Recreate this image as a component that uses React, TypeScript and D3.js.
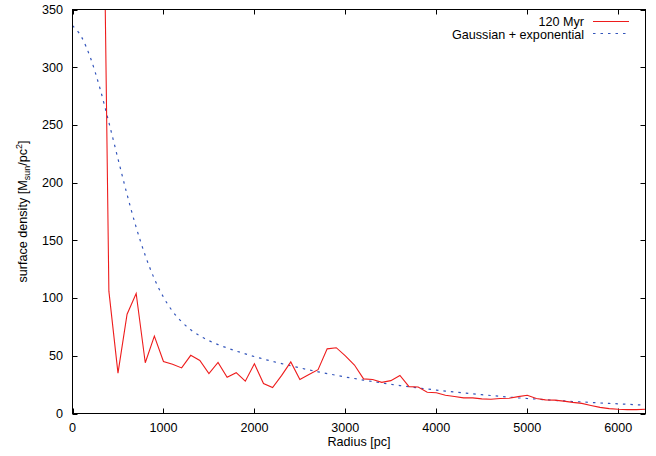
import React from "react";
import * as d3 from "d3";

const radius = [300, 400, 500, 600, 700, 800, 900, 1000, 1100, 1200, 1300, 1400, 1500, 1600, 1700, 1800, 1900, 2000, 2100, 2200, 2300, 2400, 2500, 2600, 2700, 2800, 2900, 3000, 3100, 3200, 3300, 3400, 3500, 3600, 3700, 3800, 3900, 4000, 4100, 4200, 4300, 4400, 4500, 4600, 4700, 4800, 4900, 5000, 5100, 5200, 5300, 5400, 5500, 5600, 5700, 5800, 5900, 6000, 6100, 6200, 6300];
const density120 = [720, 106, 35, 86, 104, 44, 67, 45, 42.6, 39.5, 50.4, 46, 34.6, 44.3, 31.4, 35.4, 28, 43, 26, 22.5, 33, 44.7, 29.4, 33.7, 38, 56, 57, 50, 42, 30, 29.4, 27, 28.5, 33, 23.3, 23, 18.4, 18, 15.8, 14.7, 13.5, 13.5, 12.7, 12.4, 13, 13.2, 14.6, 15.8, 13, 11.8, 11.6, 10.7, 9.6, 8.8, 7, 5.3, 4.2, 3.7, 3.4, 3.4, 3.7];

const fitRadius = [0, 100, 200, 300, 400, 500, 600, 700, 800, 900, 1000, 1100, 1200, 1300, 1400, 1500, 1600, 1700, 1800, 1900, 2000, 2100, 2200, 2300, 2400, 2500, 2600, 2700, 2800, 2900, 3000, 3100, 3200, 3300, 3400, 3500, 3600, 3700, 3800, 3900, 4000, 4100, 4200, 4300, 4400, 4500, 4600, 4700, 4800, 4900, 5000, 5100, 5200, 5300, 5400, 5500, 5600, 5700, 5800, 5900, 6000, 6100, 6200, 6300];
const fitDensity = [336, 326.1, 307.6, 282.2, 252.2, 220.7, 189.7, 161.3, 136.9, 116.7, 100.8, 88.6, 79.5, 72.5, 67.3, 63.1, 59.7, 56.8, 54.1, 51.7, 49.3, 47.2, 45.1, 43.2, 41.3, 39.5, 37.8, 36.1, 34.6, 33.1, 31.6, 30.3, 28.9, 27.7, 26.5, 25.3, 24.2, 23.2, 22.2, 21.2, 20.3, 19.4, 18.6, 17.8, 17.0, 16.3, 15.6, 14.9, 14.2, 13.6, 13.0, 12.5, 11.9, 11.4, 10.9, 10.4, 10.0, 9.6, 9.1, 8.7, 8.4, 8.0, 7.6, 7.3];

const xTicks = [0, 1000, 2000, 3000, 4000, 5000, 6000];
const yTicks = [0, 50, 100, 150, 200, 250, 300, 350];
const legendLabels = ["120 Myr", "Gaussian + exponential"];

const W = 656, H = 456;
const L = 72.5, R = 645.5, T = 9.5, B = 413.5;
const FONT = "'Liberation Sans', Arial, Helvetica, sans-serif";
const FS = 12.6;
const RED = "#ee1c1c";
const BLUE = "#3355bb";

export default function App() {
  const x = d3.scaleLinear().domain([0, 6300]).range([L, R]);
  const y = d3.scaleLinear().domain([0, 350]).range([B, T]);
  const redLine = d3.line<number>().x((_, i) => x(radius[i])).y((d) => y(d));
  const fitLine = d3.line<number>().x((_, i) => x(fitRadius[i])).y((d) => y(d)).curve(d3.curveMonotoneX);
  const tl = 5;
  return (
    <svg width={W} height={H} style={{ position: "absolute", left: 0, top: 0 }} fontFamily={FONT}>
      <rect x={0} y={0} width={W} height={H} fill="#fff" />
      <defs>
        <clipPath id="plotclip">
          <rect x={L} y={T} width={R - L} height={B - T} />
        </clipPath>
      </defs>
      {xTicks.map((t) => (
        <g key={"x" + t}>
          <line x1={Math.round(x(t)) + 0.5} x2={Math.round(x(t)) + 0.5} y1={B} y2={B - tl} stroke="#000" />
          <line x1={Math.round(x(t)) + 0.5} x2={Math.round(x(t)) + 0.5} y1={T} y2={T + tl} stroke="#000" />
          <text x={x(t)} y={432} textAnchor="middle" fontSize={FS}>{t}</text>
        </g>
      ))}
      {yTicks.map((t) => (
        <g key={"y" + t}>
          <line x1={L} x2={L + tl} y1={Math.round(y(t)) + 0.5} y2={Math.round(y(t)) + 0.5} stroke="#000" />
          <line x1={R} x2={R - tl} y1={Math.round(y(t)) + 0.5} y2={Math.round(y(t)) + 0.5} stroke="#000" />
          <text x={63} y={y(t) + 4.4} textAnchor="end" fontSize={FS}>{t}</text>
        </g>
      ))}
      <g clipPath="url(#plotclip)">
        <path d={fitLine(fitDensity) || ""} fill="none" stroke={BLUE} strokeWidth={1.2} strokeDasharray="2.5,5" />
        <path d={redLine(density120) || ""} fill="none" stroke={RED} strokeWidth={1.1} />
      </g>
      <rect x={L} y={T} width={R - L} height={B - T} fill="none" stroke="#000" strokeWidth={1} />
      <text x={584} y={26} textAnchor="end" fontSize={FS}>{legendLabels[0]}</text>
      <line x1={593} x2={629} y1={21.5} y2={21.5} stroke={RED} strokeWidth={1.1} />
      <text x={584} y={38.5} textAnchor="end" fontSize={FS}>{legendLabels[1]}</text>
      <line x1={593} x2={629} y1={33.5} y2={33.5} stroke={BLUE} strokeWidth={1.2} strokeDasharray="2.5,5" />
      <text x={(L + R) / 2} y={446} textAnchor="middle" fontSize={FS}>Radius [pc]</text>
      <text transform={`translate(27,${(T + B) / 2}) rotate(-90)`} textAnchor="middle" fontSize={FS}>
        surface density [M<tspan fontSize={9} dy={3}>sun</tspan><tspan dy={-3}>/pc</tspan><tspan fontSize={9} dy={-5}>2</tspan><tspan dy={5}>]</tspan>
      </text>
    </svg>
  );
}
